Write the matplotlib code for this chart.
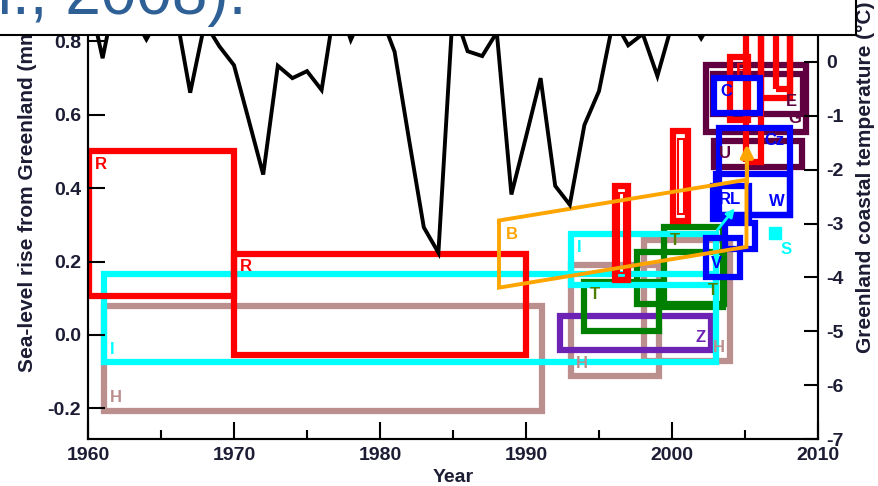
import numpy as np
import matplotlib.pyplot as plt
from matplotlib.patches import Rectangle, Polygon

plt.rcParams['font.family'] = ['Liberation Sans', 'DejaVu Sans']

# Greenland coastal temperature (deg C), 1960-2003
# (peaks above ~0.5 are hidden behind the slide title box)
years = np.arange(1960, 2004)
temp = [1.3, 0.07, 1.4, 0.9, 0.42, 0.9, 0.94, -0.57, 0.73, 0.29,
        -0.06, -1.07, -2.09, -0.07, -0.30, -0.17, -0.52, 1.2, 0.41, 1.0,
        0.9, 0.19, -1.46, -3.07, -3.54, 1.0, 0.20, 0.11, 0.55, -2.46,
        -1.39, -0.30, -2.30, -2.65, -1.17, -0.54, 0.8, 0.31, 0.52, -0.26,
        0.7, 0.9, 0.44, 0.9]

# mass balance estimates: period (years) and range (mm/yr sea level)
box_lab = ['H', 'H', 'H', 'Z', 'T', 'T', 'T', 'I', 'I', 'R', 'R',
           '', '', 'G', 'E', 'U', 'R', '', '', '',
           'C', 'Cz', 'W', 'RL', '', 'V']
box_t0 = [1961.1, 1993.05, 1998.05, 1992.35, 1994.0, 1997.6, 1999.45, 1961.1, 1993.1, 1960.1, 1970.0,
          1996.1, 2000.1, 2002.3, 2002.8, 2002.85, 2004.0, 2005.1, 2006.1, 2007.1,
          2002.9, 2003.25, 2003.0, 2002.8, 2003.6, 2002.3]
box_t1 = [1991.1, 1999.1, 2004.0, 2002.7, 1999.1, 2003.55, 2003.5, 2003.0, 2003.0, 1970.0, 1990.0,
          1997.0, 2001.1, 2009.2, 2008.95, 2008.9, 2005.2, 2006.1, 2008.1, 2008.1,
          2006.0, 2008.1, 2008.1, 2005.3, 2005.7, 2004.65]
box_lo = [-0.207, -0.113, -0.07, -0.042, 0.011, 0.085, 0.076, -0.074, 0.135, 0.106, -0.055,
          0.15, 0.31, 0.554, 0.601, 0.459, 0.586, 0.471, 0.647, 0.67,
          0.604, 0.327, 0.328, 0.316, 0.234, 0.158]
box_hi = [0.078, 0.192, 0.259, 0.052, 0.145, 0.226, 0.294, 0.165, 0.275, 0.50, 0.222,
          0.407, 0.555, 0.736, 0.7125, 0.529, 0.757, 0.95, 0.95, 0.95,
          0.70, 0.565, 0.44, 0.406, 0.306, 0.264]

# Box (B): trend band, and the S point
b_years = [1988.15, 1988.15, 2005.1, 2005.1]
b_vals = [0.129, 0.312, 0.423, 0.240]
s_year, s_val = 2007.05, 0.277

# styles
c_red, c_cyan, c_brown, c_green = '#ff0000', '#00ffff', '#bc8f8f', '#008000'
c_purple, c_orange, c_blue, c_maroon = '#6c22b5', '#ffa500', '#0000ff', '#600040'
box_col = [c_brown] * 3 + [c_purple] + [c_green] * 3 + [c_cyan] * 2 + [c_red] * 4 + \
          [c_maroon] * 3 + [c_red] * 4 + [c_blue] * 6
lab_col = {c_green: '#4d8000'}
lab_pos = ['bl', 'bl', 'br', 'br', 'tl', 'br', 'tl', 'bl', 'tl', 'tl', 'tl',
           '', '', 'br', 'br', 'tl', 'tl', '', '', '',
           'tl', 'tr', 'br', 'tl', '', 'bl']
txt = '#1c1c34'

fig = plt.figure(figsize=(8.79, 4.86), dpi=100)
ax = fig.add_axes([88 / 879, 1 - 439 / 486, 730 / 879, 439 / 486])
ax2 = ax.twinx()

for t0, t1, lo, hi, c, lab, pos in zip(box_t0, box_t1, box_lo, box_hi, box_col, box_lab, lab_pos):
    ax.add_patch(Rectangle((t0, lo), t1 - t0, hi - lo, fill=False, ec=c, lw=4.5,
                           joinstyle='miter'))
    if lab:
        x = t0 if pos[1] == 'l' else t1
        y = hi if pos[0] == 't' else lo
        ax.annotate(lab, (x, y), xytext=(4 if pos[1] == 'l' else -4, -4 if pos[0] == 't' else 4),
                    textcoords='offset points', ha='left' if pos[1] == 'l' else 'right',
                    va='top' if pos[0] == 't' else 'bottom', color=lab_col.get(c, c),
                    fontsize=12, fontweight='bold')

# thin inner frames of the narrow red boxes
for i in (11, 12):
    ax.add_patch(Rectangle((box_t0[i] + 0.3, box_lo[i] + 0.02), box_t1[i] - box_t0[i] - 0.6,
                           box_hi[i] - box_lo[i] - 0.04, fill=False, ec=c_red, lw=1.5))

ax.add_patch(Polygon(np.column_stack([b_years, b_vals]), closed=True, fill=False,
                     ec=c_orange, lw=2.8))
ax.annotate('B', (b_years[1], b_vals[1]), xytext=(5, -5), textcoords='offset points',
            ha='left', va='top', color=c_orange, fontsize=12, fontweight='bold')
ax.annotate('', xy=(2005.13, 0.52), xytext=(2005.13, 0.414),
            arrowprops=dict(arrowstyle='-|>', color=c_orange, lw=3, mutation_scale=18,
                            shrinkA=0, shrinkB=0))
ax.annotate('', xy=(2004.3, 0.345), xytext=(2003.1, 0.286),
            arrowprops=dict(arrowstyle='-|>', color=c_cyan, lw=2, mutation_scale=12,
                            shrinkA=0, shrinkB=0))
ax.plot([s_year], [s_val], 's', color=c_cyan, ms=9)
ax.annotate('S', (s_year, s_val), xytext=(4, -6), textcoords='offset points',
            ha='left', va='top', color=c_cyan, fontsize=12, fontweight='bold')

ax2.plot(years, temp, color='black', lw=2.8, solid_joinstyle='miter')

ax.set_xlim(1960, 2010)
ax.set_ylim(-0.2834, 0.9128)
ax2.set_ylim(-7, 1.151)

ax.set_xticks(np.arange(1960, 2011, 10))
ax.set_xticks(np.arange(1965, 2010, 10), minor=True)
ax.set_yticks([-0.2, 0.0, 0.2, 0.4, 0.6, 0.8], ['-0.2', '0.0', '0.2', '0.4', '0.6', '0.8'])
ax2.set_yticks(range(-7, 1), [str(v) for v in range(-7, 1)])

ax.tick_params(axis='x', which='major', direction='in', length=12, width=1.5, pad=6,
               labelsize=14, labelcolor=txt)
ax.tick_params(axis='x', which='minor', direction='in', length=6.5, width=1.5)
ax.tick_params(axis='y', direction='in', length=12, width=1.5, pad=5, labelsize=14,
               labelcolor=txt)
ax2.tick_params(axis='y', direction='in', length=10, width=1.5, pad=6, labelsize=14,
                labelcolor=txt)
for a in (ax, ax2):
    for s in a.spines.values():
        s.set_linewidth(1.5)
    for lbl in a.get_xticklabels() + a.get_yticklabels():
        lbl.set_fontweight('bold')

ax.set_xlabel('Year', fontsize=14, fontweight='bold', color=txt, labelpad=3)
fig.text(28 / 879, 1 - 372 / 486, 'Sea-level rise from Greenland (mm)', rotation=90,
         ha='center', va='bottom', fontsize=15, fontweight='bold', color=txt)
fig.text(866 / 879, 1 - 353 / 486, 'Greenland coastal temperature (°C)', rotation=90,
         ha='center', va='bottom', fontsize=15, fontweight='bold', color=txt)

# slide title box overlapping the top of the chart
fig.add_artist(Rectangle((-0.01, 1 - 35 / 486), 856 / 879 + 0.01, 0.2,
                         transform=fig.transFigure, fc='white', ec='black', lw=1.5, zorder=5))
fig.text(247 / 879, 1 - 14 / 486, 'et al., 2008).', ha='right', va='baseline',
         fontsize=46, color='#2e6096', zorder=6)

fig.savefig('out.png', dpi=100)
